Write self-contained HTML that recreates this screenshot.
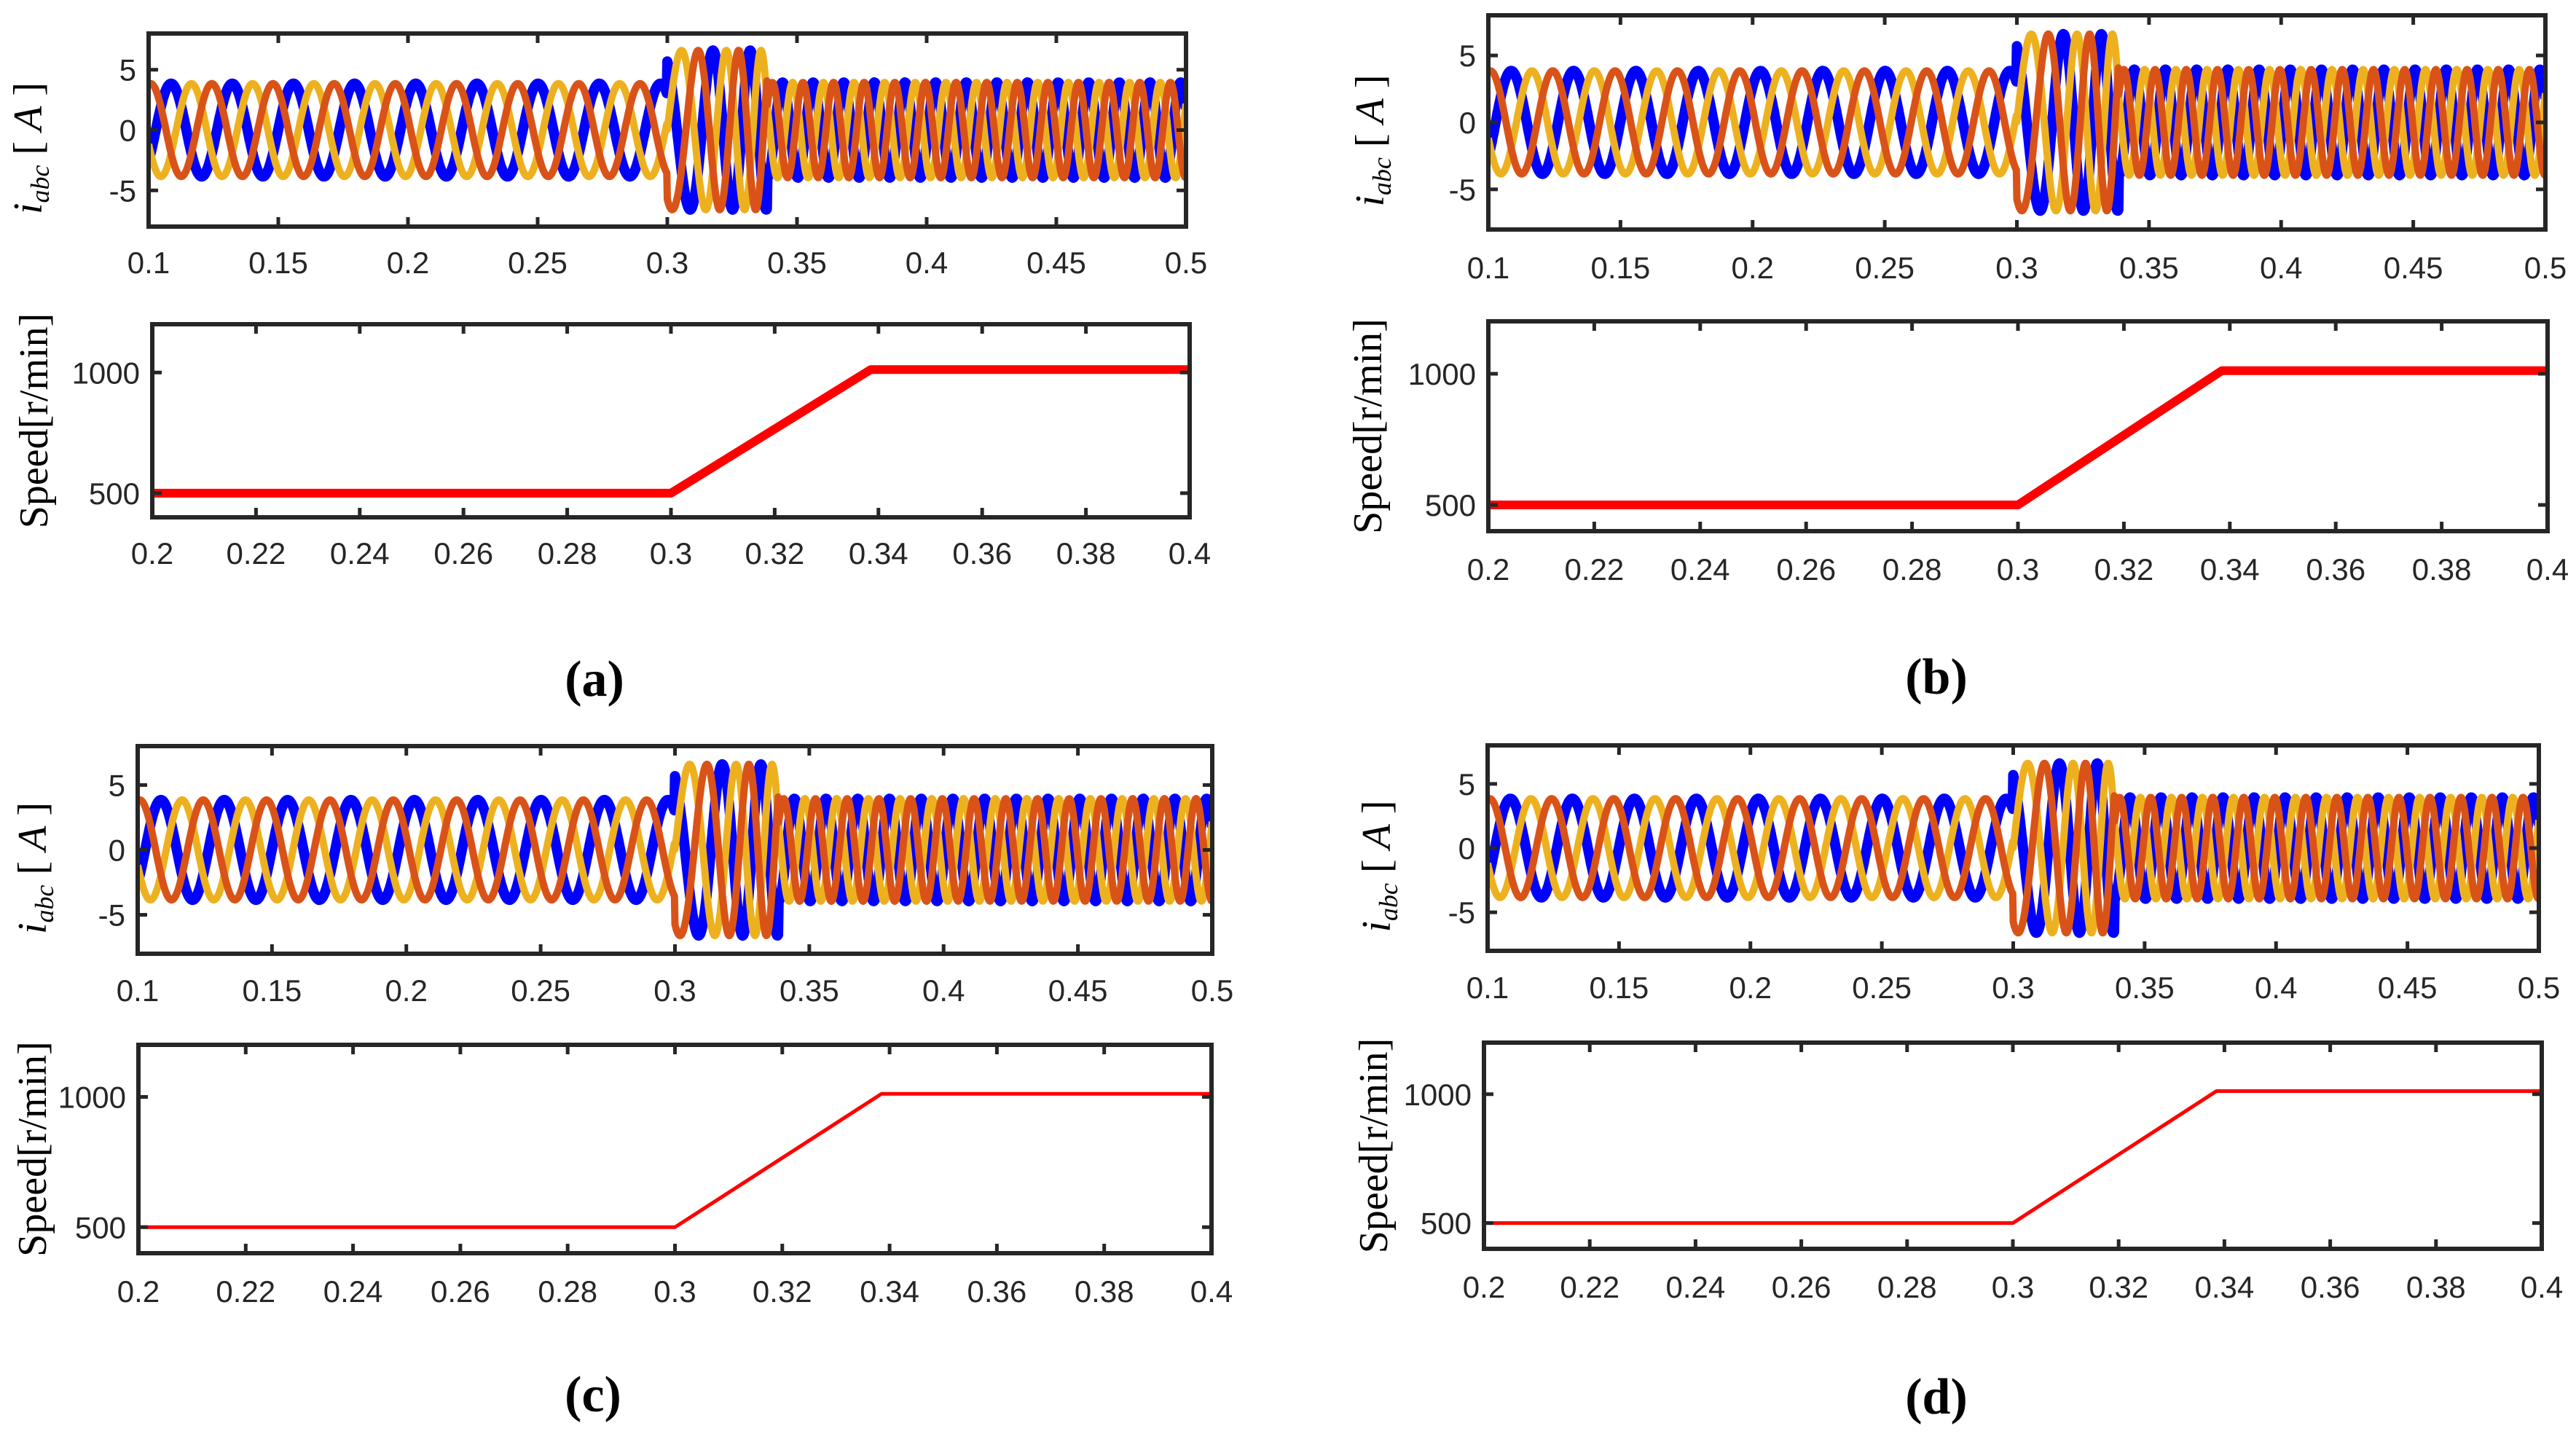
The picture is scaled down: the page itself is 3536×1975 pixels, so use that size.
<!DOCTYPE html>
<html><head><meta charset="utf-8">
<style>
html,body{margin:0;padding:0;background:#fff;}
svg{display:block;}
.tick{font-family:"Liberation Sans",Arial,sans-serif;font-size:42px;fill:#262626;}
.ylab{font-family:"Liberation Serif","Times New Roman",serif;font-size:56px;fill:#000;}
.cap{font-family:"Liberation Serif","Times New Roman",serif;font-size:70px;font-weight:bold;fill:#000;}
</style></head>
<body>
<svg id="fig" width="3536" height="1975" viewBox="0 0 3536 1975" xmlns="http://www.w3.org/2000/svg"></svg>
<script>
// ---- data ----
const curTicksX = [0.1,0.15,0.2,0.25,0.3,0.35,0.4,0.45,0.5];
const curTickLabels = ["0.1","0.15","0.2","0.25","0.3","0.35","0.4","0.45","0.5"];
const curTicksY = [-5,0,5];
const curTickLabelsY = ["-5","0","5"];
const spdTicksX = [0.2,0.22,0.24,0.26,0.28,0.3,0.32,0.34,0.36,0.38,0.4];
const spdTickLabels = ["0.2","0.22","0.24","0.26","0.28","0.3","0.32","0.34","0.36","0.38","0.4"];
const spdTicksY = [500,1000];
const spdTickLabelsY = ["500","1000"];
// current waveform segments (start, end, start freq Hz, end freq Hz, amplitude A, phase-a peak time)
const segStart = [0.1, 0.3, 0.3385];
const segEnd = [0.3, 0.3385, 0.5];
const segFreq0 = [42.4, 42.4, 84.7];
const segFreq1 = [42.4, 84.7, 84.7];
const segAmp = [3.85, 6.6, 3.95];
const segPeakRef = [0.1008, 0.3119, 0.3405];
// speed profile
const spdT = [0.2, 0.3, 0.3385, 0.4];
const spdV = [500, 500, 1012, 1012];
// panel names and captions
const panelCaps = ["(a)","(b)","(c)","(d)"];
const speedWidths = [12, 12, 5, 5];

// ---- layout ----
const panels = [
 {cur:[204,46,1628,311], spd:[209,445,1633,710], cl:360, sl:759, cap:[816,931], ylx:[39,47]},
 {cur:[2043,21,3494,315], spd:[2043,441,3497,729], cl:367, sl:781, cap:[2658,928], ylx:[1881,1878]},
 {cur:[189,1024,1664,1309], spd:[190,1434,1663,1720], cl:1359, sl:1772, cap:[814,1913], ylx:[45,45]},
 {cur:[2042,1023,3485,1305], spd:[2037,1431,3489,1714], cl:1355, sl:1766, cap:[2658,1916], ylx:[1890,1886]}
];
const NS = "http://www.w3.org/2000/svg";
const svg = document.getElementById('fig');
function mk(tag, attrs, parent){
  const e = document.createElementNS(NS, tag);
  for (const k in attrs) e.setAttribute(k, attrs[k]);
  (parent||svg).appendChild(e);
  return e;
}
function scale(d0,d1,r0,r1){ return v => r0 + (v-d0)/(d1-d0)*(r1-r0); }

function phaseAt(t){
  let i = 0;
  for (let k=0;k<segStart.length;k++) if (t >= segStart[k]) i = k;
  const ts = segStart[i], f0 = segFreq0[i];
  const kf = (segFreq1[i]-segFreq0[i])/(segEnd[i]-segStart[i]);
  const F = x => f0*(x-ts) + kf/2*(x-ts)*(x-ts);
  return {th: 2*Math.PI*(F(t)-F(segPeakRef[i])), A: segAmp[i]};
}

function drawAxes(g, box, xs, ys, ticksX, ticksY, labX, labY, labYpos, pname){
  const [x0,y0,x1,y1] = box;
  for (let i=0;i<ticksX.length;i++){
    const X = xs(ticksX[i]);
    const tk = mk('line',{x1:X,y1:y1,x2:X,y2:y1-13,stroke:'#262626','stroke-width':5},g);
    
    
    const tk2 = mk('line',{x1:X,y1:y0,x2:X,y2:y0+13,stroke:'#262626','stroke-width':5},g);
    
    
    const t = mk('text',{x:X,y:labYpos+15,'text-anchor':'middle',class:'tick'},g);
    t.textContent = labX[i];
    
    
  }
  for (let i=0;i<ticksY.length;i++){
    const Y = ys(ticksY[i]);
    const tk = mk('line',{x1:x0,y1:Y,x2:x0+13,y2:Y,stroke:'#262626','stroke-width':5},g);
    
    
    const tk2 = mk('line',{x1:x1,y1:Y,x2:x1-13,y2:Y,stroke:'#262626','stroke-width':5},g);
    
    
    const t = mk('text',{x:x0-17,y:Y+15,'text-anchor':'end',class:'tick'},g);
    t.textContent = labY[i];
    
    
  }
  const fr = mk('rect',{x:x0,y:y0,width:x1-x0,height:y1-y0,fill:'none',stroke:'#262626','stroke-width':6},g);
  
  
}

panels.forEach((p, pi) => {
  const pname = 'panel-' + 'abcd'[pi];
  const g = mk('g',{});
  
  

  // ---- current plot ----
  const [cx0,cy0,cx1,cy1] = p.cur;
  const xs = scale(0.1,0.5,cx0,cx1);
  const ys = scale(-8,8,cy1,cy0);
  const cg = mk('g',{},g);
  
  
  const clipId = 'clip'+pi;
  const cp = mk('clipPath',{id:clipId},cg);
  mk('rect',{x:cx0,y:cy0,width:cx1-cx0,height:cy1-cy0},cp);
  const phases = [
    {name:'phase-b-current', col:'#0000ff', sh:-2*Math.PI/3, w:14},
    {name:'phase-c-current', col:'#edb120', sh:-4*Math.PI/3, w:10},
    {name:'phase-a-current', col:'#d95319', sh:0, w:10}
  ];
  phases.forEach(ph => {
    let d = '';
    const N = 2000;
    for (let i=0;i<=N;i++){
      const t = segStart[0] + (segEnd[segEnd.length-1]-segStart[0])*i/N;
      const pa = phaseAt(t);
      const v = pa.A*Math.cos(pa.th + ph.sh);
      d += (i?'L':'M') + xs(t).toFixed(1) + ' ' + ys(v).toFixed(1);
    }
    const path = mk('path',{d:d,fill:'none',stroke:ph.col,'stroke-width':ph.w,'stroke-linejoin':'round','clip-path':'url(#'+clipId+')'},cg);
    
    
  });
  drawAxes(cg, p.cur, xs, ys, curTicksX, curTicksY, curTickLabels, curTickLabelsY, p.cl, pname+'-current');
  const yl = mk('text',{transform:'translate('+(p.ylx[0]+18)+','+((cy0+cy1)/2+25)+') rotate(-90)','text-anchor':'middle',class:'ylab'},cg);
  yl.innerHTML = '<tspan font-style="italic">i</tspan><tspan font-style="italic" font-size="36" dy="10">abc</tspan><tspan dy="-10"> [ </tspan><tspan font-style="italic">A</tspan><tspan> ]</tspan>';
  
  

  // ---- speed plot ----
  const [sx0,sy0,sx1,sy1] = p.spd;
  const xs2 = scale(0.2,0.4,sx0,sx1);
  const ys2 = scale(400,1200,sy1,sy0);
  const sg = mk('g',{},g);
  
  
  let d = '';
  for (let i=0;i<spdT.length;i++) d += (i?'L':'M') + xs2(spdT[i]).toFixed(1) + ' ' + ys2(spdV[i]).toFixed(1);
  const sp = mk('path',{d:d,fill:'none',stroke:'#ff0000','stroke-width':speedWidths[pi],'stroke-linejoin':'round'},sg);
  
  
  drawAxes(sg, p.spd, xs2, ys2, spdTicksX, spdTicksY, spdTickLabels, spdTickLabelsY, p.sl, pname+'-speed');
  const yl2 = mk('text',{transform:'translate('+(p.ylx[1]+18)+','+((sy0+sy1)/2)+') rotate(-90)','text-anchor':'middle',class:'ylab'},sg);
  yl2.textContent = 'Speed[r/min]';
  
  

  const cap = mk('text',{x:p.cap[0],y:p.cap[1]+24,'text-anchor':'middle',class:'cap'},g);
  cap.textContent = panelCaps[pi];
  
  
});
</script>
</body></html>
